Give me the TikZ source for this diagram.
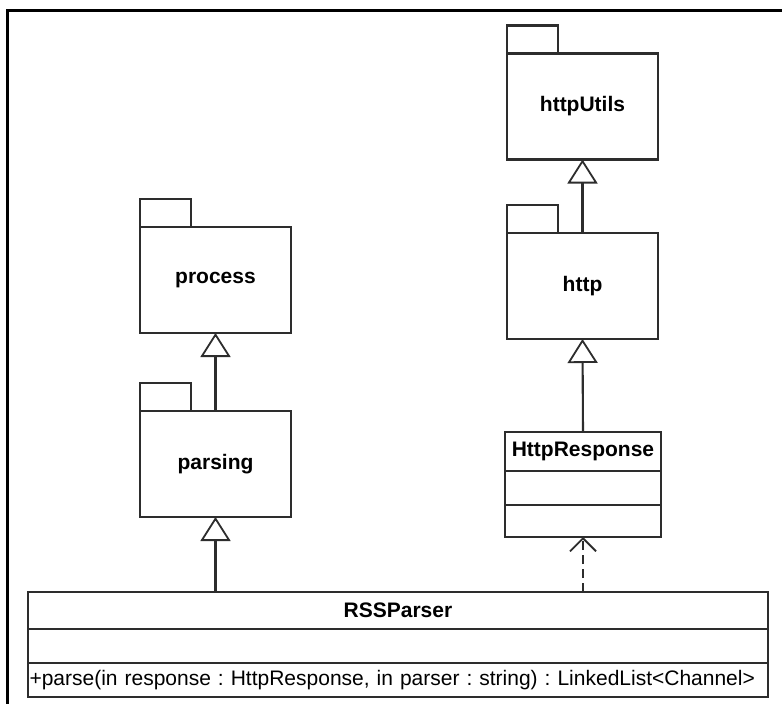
\documentclass[tikz,border=0pt]{standalone}
\usepackage{fontspec}
\setmainfont{Liberation Sans}
\usetikzlibrary{arrows.meta,positioning}
\definecolor{umlC}{RGB}{45,45,45}

\begin{document}
\frenchspacing
\begin{tikzpicture}[x=1pt,y=-1pt,
  umlline/.style={draw=umlC,line width=2.1pt},
  pkg/.style={umlline,fill=white,minimum width=151pt,minimum height=106pt,
    inner sep=0pt,outer sep=0pt,font=\fontsize{21}{24}\selectfont\bfseries},
  cls/.style={umlline,fill=white,inner sep=0pt,outer sep=0pt,
    font=\fontsize{21}{24}\selectfont},
  gen/.style={umlline,-{Triangle[open,length=24pt,width=30pt,line width=1.8pt]}},
  dep/.style={umlline,dash pattern=on 9pt off 5pt,
    -{Straight Barb[length=13pt,width=26pt,line width=1.8pt]}}]
\useasboundingbox (0,0) rectangle (782,704);
\fill[white] (0,0) rectangle (782,704);
% frame of the sheet, cut at the right and bottom
\draw[line width=3pt,line cap=rect] (7,704) -- (7,10) -- (782,10);

% packages
\node[pkg] (process) at (215.5,280) {process};
\node[pkg] (parsing) at (215.5,464) {parsing};
\node[pkg] (httputils) at (582.5,106.5) {httpUtils};
\node[pkg] (http) at (582.5,286) {http};
\foreach \p in {process,parsing,httputils,http}
  \draw[umlline] (\p.north west) rectangle ++(51,-28);   % tab

% class HttpResponse
\node[cls,minimum width=156pt,minimum height=39pt,font=\fontsize{21}{24}\selectfont\bfseries]
  (resp) at (583,451.5) {HttpResponse};
\node[cls,minimum width=156pt,minimum height=34pt,below=0pt of resp] (respattr) {};
\node[cls,minimum width=156pt,minimum height=32pt,below=0pt of respattr] (respops) {};

% class RSSParser
\node[cls,minimum width=740pt,minimum height=37pt,font=\fontsize{21}{24}\selectfont\bfseries]
  (parser) at (398,610.5) {RSSParser};
\node[cls,minimum width=740pt,minimum height=34pt,below=0pt of parser] (parserattr) {};
\node[cls,minimum height=34pt,text width=737pt,inner xsep=1.5pt,align=left,
  below=0pt of parserattr] (parserops)
  {+parse(in response : HttpResponse, in parser : string) : LinkedList<Channel>};

% relations
\draw[gen] (parsing.north) -- (process.south);
\draw[gen] (http.north) -- (httputils.south);
\draw[gen] (resp.north) -- (http.south);
\draw[gen] (parsing.south |- parser.north) -- (parsing.south);
\draw[dep] (respops.south |- parser.north) -- (respops.south);
\end{tikzpicture}
\end{document}
